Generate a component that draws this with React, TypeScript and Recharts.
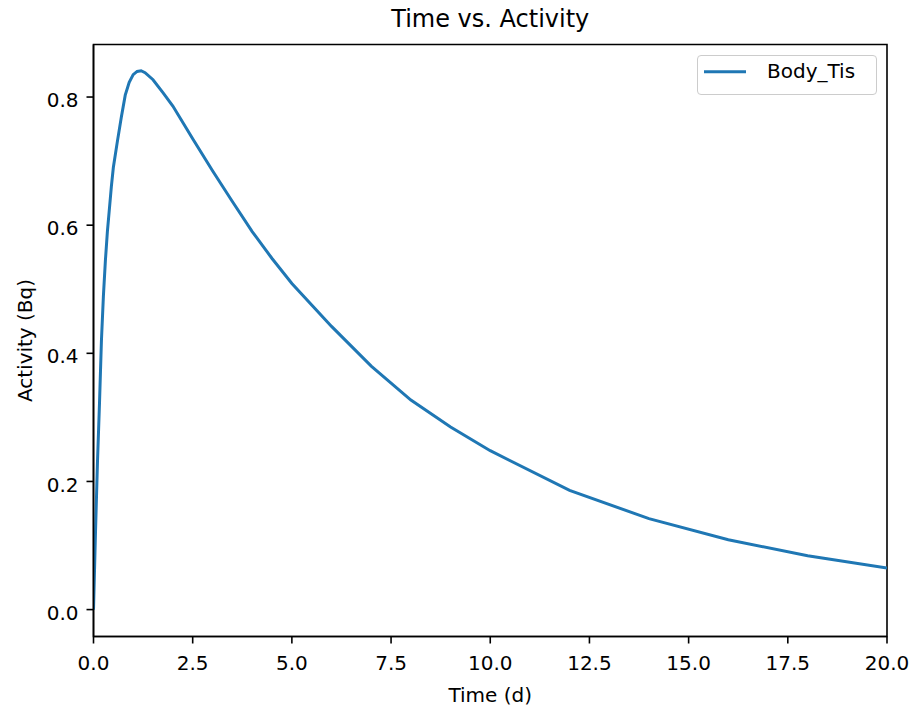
import { LineChart, Line, XAxis, YAxis, Legend, ReferenceArea } from 'recharts'

// sample times (d) and activity (Bq)
const times = [0, 0.05, 0.1, 0.15, 0.2, 0.25, 0.3, 0.35, 0.4, 0.45, 0.5, 0.6, 0.7, 0.8, 0.9, 1.0, 1.1, 1.2, 1.3, 1.5, 1.75, 2, 2.5, 3, 3.5, 4, 4.5, 5, 6, 7, 8, 9, 10, 12, 14, 16, 18, 20]
const bodyTis = [0, 0.12, 0.23, 0.32, 0.42, 0.49, 0.545, 0.59, 0.625, 0.66, 0.69, 0.73, 0.768, 0.803, 0.823, 0.835, 0.84, 0.841, 0.838, 0.827, 0.807, 0.786, 0.735, 0.685, 0.637, 0.59, 0.548, 0.509, 0.442, 0.38, 0.327, 0.285, 0.248, 0.186, 0.142, 0.109, 0.084, 0.065]

const xTicks = [0, 2.5, 5, 7.5, 10, 12.5, 15, 17.5, 20]
const yTicks = [0, 0.2, 0.4, 0.6, 0.8]
const yDomain: [number, number] = [-0.042, 0.882]

const seriesName = 'Body_Tis'
const lineColor = '#1f77b4'
const font = '"DejaVu Sans", sans-serif'

const data = times.map((t, i) => ({ t, v: bodyTis[i] }))

function LegendBox() {
  return (
    <div
      style={{
        width: 180,
        height: 40,
        boxSizing: 'border-box',
        border: '1.6px solid #cccccc',
        borderRadius: 4,
        background: 'rgba(255,255,255,0.8)',
        position: 'relative',
      }}
    >
      <svg width={180} height={40} style={{ position: 'absolute', left: -1.6, top: -1.6 }}>
        <line x1={8} x2={50} y1={17.7} y2={17.7} stroke={lineColor} strokeWidth={3} />
        <text x={71} y={24} fontFamily={font} fontSize={20} fill="#000">
          {seriesName}
        </text>
      </svg>
    </div>
  )
}

export default function App() {
  return (
    <div style={{ position: 'absolute', left: 0, top: 0, width: 914, height: 711, background: '#fff' }}>
      <LineChart width={914} height={711} data={data} margin={{ top: 44.5, right: 27, left: 0, bottom: 0 }}>
        <ReferenceArea x1={0} x2={20} y1={yDomain[0]} y2={yDomain[1]} fill="none" stroke="#000" strokeWidth={1.6} />
        <XAxis
          dataKey="t"
          type="number"
          domain={[0, 20]}
          ticks={xTicks}
          tickFormatter={(v: number) => v.toFixed(1)}
          allowDataOverflow
          height={74.5}
          stroke="#000"
          strokeWidth={1.6}
          tickSize={7}
          tickMargin={12}
          tick={{ fill: '#000', fontSize: 20, fontFamily: font }}
          label={{ value: 'Time (d)', position: 'insideBottom', offset: 9, fill: '#000', fontSize: 20, fontFamily: font }}
        />
        <YAxis
          type="number"
          domain={yDomain}
          ticks={yTicks}
          tickFormatter={(v: number) => v.toFixed(1)}
          allowDataOverflow
          width={93.5}
          stroke="#000"
          strokeWidth={1.6}
          tickSize={7}
          tickMargin={8}
          tick={{ fill: '#000', fontSize: 20, fontFamily: font, dy: 3 }}
          label={(props: any) => {
            const vb = props.viewBox
            const cx = 31.5
            const cy = vb.y + vb.height / 2
            return (
              <text
                x={cx}
                y={cy}
                transform={`rotate(-90, ${cx}, ${cy})`}
                textAnchor="middle"
                fontFamily={font}
                fontSize={20}
                fill="#000"
              >
                Activity (Bq)
              </text>
            )
          }}
        />
        <Line
          type="linear"
          dataKey="v"
          name={seriesName}
          stroke={lineColor}
          strokeWidth={3}
          dot={false}
          isAnimationActive={false}
        />
        <Legend
          layout="horizontal"
          verticalAlign="middle"
          align="center"
          content={() => <LegendBox />}
          wrapperStyle={{ top: 55, left: 697, width: 180, height: 40 }}
        />
      </LineChart>
      <svg width={914} height={40} style={{ position: 'absolute', left: 0, top: 0, pointerEvents: 'none' }}>
        <text x={490.25} y={27} textAnchor="middle" fontFamily={font} fontSize={24} fill="#000">
          Time vs. Activity
        </text>
      </svg>
    </div>
  )
}
